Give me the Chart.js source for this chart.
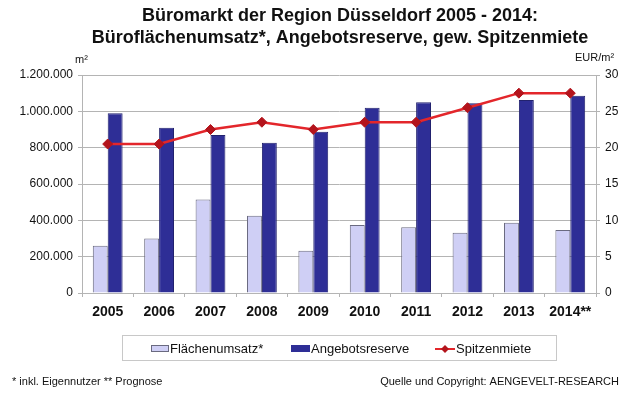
<!DOCTYPE html>
<html>
<head>
<meta charset="utf-8">
<script src="https://cdn.jsdelivr.net/npm/chart.js@4"></script>
<style>
  html, body { margin: 0; padding: 0; background: #fff; }
  #wrap { width: 640px; height: 396px; }
</style>
</head>
<body>
<div id="wrap"><canvas id="chart" width="640" height="396"></canvas></div>
<script>
// Daten
var years = ["2005", "2006", "2007", "2008", "2009", "2010", "2011", "2012", "2013", "2014**"];
var flaechenumsatz = [260000, 300000, 515000, 425000, 233000, 374000, 362000, 332000, 387000, 347000];
var angebotsreserve = [990000, 910000, 870000, 827000, 888000, 1020000, 1050000, 1045000, 1062000, 1086000];
var spitzenmiete = [20.5, 20.5, 22.5, 23.5, 22.5, 23.5, 23.5, 25.5, 27.5, 27.5];
var titleLines = ["Büromarkt der Region Düsseldorf 2005 - 2014:", "Büroflächenumsatz*, Angebotsreserve, gew. Spitzenmiete"];
var legendLabels = ["Flächenumsatz*", "Angebotsreserve", "Spitzenmiete"];
var footLeft = "* inkl. Eigennutzer ** Prognose";
var footRight = "Quelle und Copyright: AENGEVELT-RESEARCH";

var FONT = "'Liberation Sans', Arial, sans-serif";
var GRID = '#b4b4b4';

function punkt(v) {
    return String(v).replace(/\B(?=(\d{3})+(?!\d))/g, '.');
}

// Titel, Einheiten, Legende und Fußnoten
var extras = {
    id: 'extras',
    afterDraw: function(chart) {
        var c = chart.ctx;
        var ds = chart.data.datasets;
        c.save();
        c.fillStyle = '#111';
        c.textAlign = 'center';
        c.textBaseline = 'middle';
        c.font = 'bold 18px ' + FONT;
        c.fillText(titleLines[0], 340, 16);
        c.fillText(titleLines[1], 340, 38);

        c.font = '11px ' + FONT;
        c.textAlign = 'left';
        c.fillText('m²', 75, 60);
        c.fillText('EUR/m²', 575, 58);

        // Legende
        c.strokeStyle = '#c8c8c8';
        c.lineWidth = 1;
        c.strokeRect(122.5, 335.5, 434, 25);
        c.font = '13px ' + FONT;
        c.fillStyle = ds[0].backgroundColor;
        c.fillRect(151, 345, 18, 7);
        c.strokeStyle = ds[0].borderColor;
        c.strokeRect(151.5, 345.5, 17, 6);
        c.fillStyle = ds[1].backgroundColor;
        c.fillRect(291, 345, 19, 7);
        c.strokeStyle = ds[2].borderColor;
        c.lineWidth = 2;
        c.beginPath();
        c.moveTo(435, 349);
        c.lineTo(455, 349);
        c.stroke();
        c.fillStyle = ds[2].pointBackgroundColor;
        c.beginPath();
        c.moveTo(445, 345); c.lineTo(449, 349); c.lineTo(445, 353); c.lineTo(441, 349);
        c.closePath();
        c.fill();
        c.fillStyle = '#111';
        c.fillText(legendLabels[0], 170, 349);
        c.fillText(legendLabels[1], 311, 349);
        c.fillText(legendLabels[2], 456, 349);

        // Fußnoten
        c.font = '11px ' + FONT;
        c.fillText(footLeft, 12, 382);
        c.textAlign = 'right';
        c.fillText(footRight, 619, 382);
        c.restore();
    }
};

var ctx = document.getElementById('chart').getContext('2d');
var chart = new Chart(ctx, {
    type: 'bar',
    data: {
        labels: years,
        datasets: [
            {
                label: legendLabels[0],
                data: flaechenumsatz,
                backgroundColor: '#cfcff5',
                borderColor: '#6a6a80',
                borderWidth: 1,
                yAxisID: 'y',
                order: 2
            },
            {
                label: legendLabels[1],
                data: angebotsreserve,
                backgroundColor: '#2e2e96',
                borderColor: '#22226e',
                borderWidth: 1,
                yAxisID: 'y',
                order: 2
            },
            {
                type: 'line',
                label: legendLabels[2],
                data: spitzenmiete,
                borderColor: '#e3262b',
                borderWidth: 2.5,
                pointStyle: 'rectRot',
                pointRadius: 5,
                pointBackgroundColor: '#b3141c',
                pointBorderColor: '#b3141c',
                pointBorderWidth: 1,
                yAxisID: 'y1',
                order: 1
            }
        ]
    },
    options: {
        responsive: false,
        animation: false,
        layout: { padding: { top: 75, bottom: 78, left: 0, right: 0 } },
        datasets: { bar: { categoryPercentage: 0.58, barPercentage: 1.0 } },
        scales: {
            x: {
                afterFit: function(s) { s.height = 25; },
                grid: { display: true, drawOnChartArea: false, color: GRID, tickLength: 4, offset: true },
                border: { color: GRID },
                ticks: { color: '#111', font: { family: FONT, size: 14, weight: 'bold' }, padding: 7 }
            },
            y: {
                position: 'left',
                min: 0, max: 1200000,
                afterFit: function(s) { s.width = 82; },
                grid: { color: GRID, tickLength: 4 },
                border: { color: GRID },
                ticks: {
                    stepSize: 200000,
                    color: '#111',
                    font: { family: FONT, size: 12 },
                    padding: 5,
                    callback: function(v) { return punkt(v); }
                }
            },
            y1: {
                position: 'right',
                min: 0, max: 30,
                afterFit: function(s) { s.width = 44; },
                grid: { drawOnChartArea: false, color: GRID, tickLength: 4 },
                border: { color: GRID },
                ticks: { stepSize: 5, color: '#111', font: { family: FONT, size: 12 }, padding: 5 }
            }
        },
        plugins: {
            legend: { display: false },
            title: { display: false },
            tooltip: { enabled: false }
        }
    },
    plugins: [extras]
});
</script>
</body>
</html>
